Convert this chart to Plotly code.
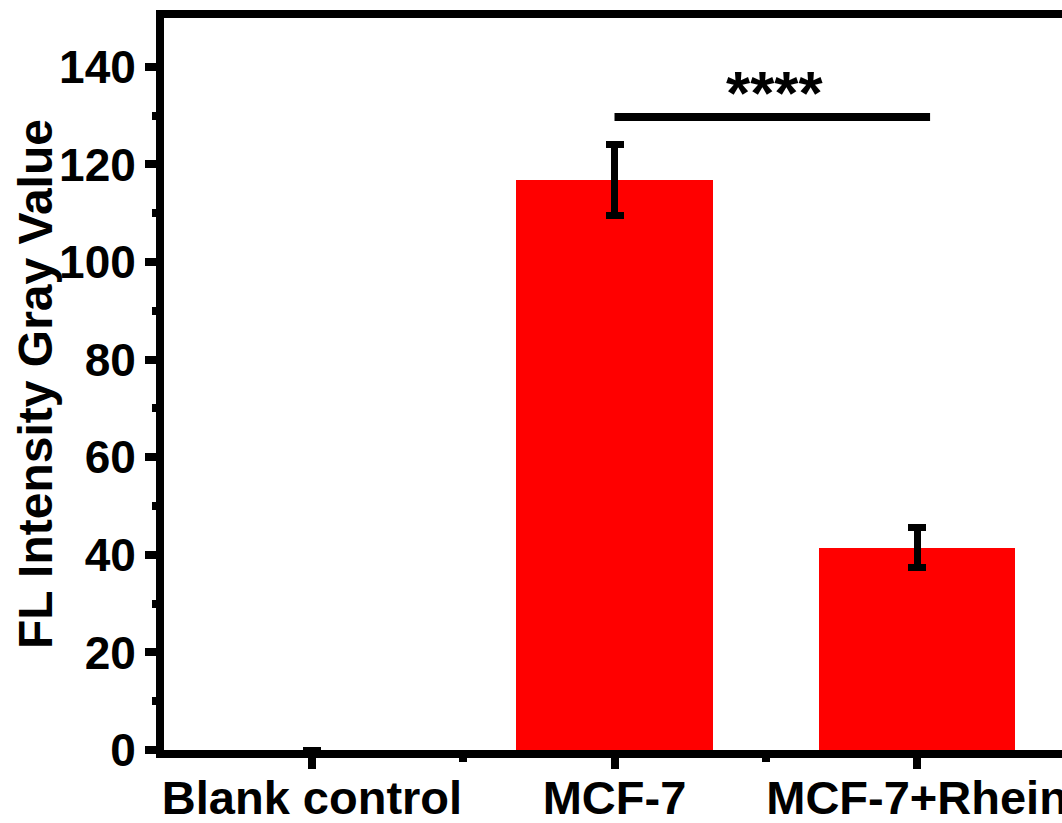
import plotly.graph_objects as go

categories = ["Blank control", "MCF-7", "MCF-7+Rhein"]
values = [0, 116.8, 41.4]
errors = [None, 7.2, 4.1]
y_ticks = [0, 20, 40, 60, 80, 100, 120, 140]
sig_pair = [1, 2.043]
sig_level = 129.7
sig_text = "****"
y_title = "FL Intensity Gray Value"

FONT = "Liberation Sans, Arial, sans-serif"
xpos = list(range(len(categories)))

fig = go.Figure()
fig.add_trace(go.Bar(
    x=xpos, y=values, width=0.65,
    marker=dict(color="#FF0000", line=dict(width=0)),
    error_y=dict(type="data", array=errors, visible=True,
                 color="black", thickness=7, width=9),
))

fig.add_shape(type="line", x0=sig_pair[0], x1=sig_pair[1], y0=sig_level, y1=sig_level,
              line=dict(color="black", width=8), xref="x", yref="y")
fig.add_annotation(x=(sig_pair[0] + 2 + 0.06) / 2, y=sig_level + 5.0, text="<b>" + sig_text + "</b>",
                   showarrow=False, font=dict(family=FONT, size=62, color="black"),
                   xref="x", yref="y")
fig.add_annotation(x=0, y=0.5, xref="paper", yref="paper", xshift=-129, xanchor="center", yanchor="middle",
                   text="<b>" + y_title + "</b>", textangle=-90, showarrow=False,
                   font=dict(family=FONT, size=48, color="black"))

fig.update_layout(
    width=1062, height=823,
    margin=dict(l=164, r=0, t=17.5, b=73, pad=0),
    plot_bgcolor="white", paper_bgcolor="white",
    showlegend=False,
    font=dict(family=FONT, size=46, color="black"),
    bargap=0,
)
fig.update_xaxes(
    range=[-0.489, 2.479], automargin=False,
    tickvals=xpos, ticktext=["<b>%s</b>" % c for c in categories],
    showline=True, linewidth=8, linecolor="black", mirror=True,
    ticks="outside", ticklen=11, tickwidth=8, tickcolor="black",
    ticklabelstandoff=-11, ticklabeloverflow="allow",
    minor=dict(tickvals=[-0.5, 0.5, 1.5, 2.5], ticks="outside", ticklen=4, tickwidth=8, tickcolor="black"),
    showgrid=False, zeroline=False,
    tickfont=dict(family=FONT, size=47, color="black"),
)
fig.update_yaxes(
    range=[0, 150], automargin=False,
    tickvals=y_ticks, ticktext=["<b>%d</b>" % v for v in y_ticks],
    showline=True, linewidth=8, linecolor="black", mirror=True,
    ticks="outside", ticklen=11, tickwidth=8, tickcolor="black",
    minor=dict(tickvals=[10, 30, 50, 70, 90, 110, 130], ticks="outside", ticklen=4, tickwidth=8, tickcolor="black"),
    showgrid=False, zeroline=False,
    tickfont=dict(family=FONT, size=46, color="black"),
)

fig.write_html("out.html")
